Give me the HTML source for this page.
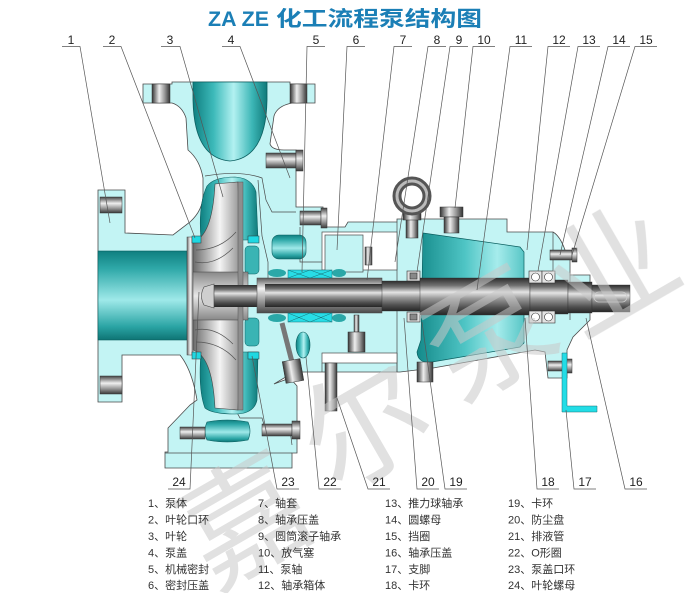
<!DOCTYPE html>
<html><head><meta charset="utf-8"><style>
html,body{margin:0;padding:0;background:#fff;}
svg{display:block;}
</style></head><body>
<svg width="700" height="593" viewBox="0 0 700 593" xmlns="http://www.w3.org/2000/svg">
<defs>
<linearGradient id="tH" x1="0" y1="0" x2="1" y2="0">
<stop offset="0" stop-color="#0f7f80"/><stop offset=".28" stop-color="#3dbaba"/><stop offset=".55" stop-color="#b2f1f1"/><stop offset=".8" stop-color="#3cb6b6"/><stop offset="1" stop-color="#0f7a7a"/>
</linearGradient>
<linearGradient id="tV" x1="0" y1="0" x2="0" y2="1">
<stop offset="0" stop-color="#0f7f80"/><stop offset=".2" stop-color="#2fa9a9"/><stop offset=".55" stop-color="#9fe9e9"/><stop offset=".85" stop-color="#2aa4a4"/><stop offset="1" stop-color="#0e7474"/>
</linearGradient>
<linearGradient id="cone" x1="0" y1="0" x2="1" y2="0">
<stop offset="0" stop-color="#148a8a"/><stop offset=".45" stop-color="#4fc5c5"/><stop offset=".75" stop-color="#a6ecec"/><stop offset="1" stop-color="#58c6c6"/>
</linearGradient>
<linearGradient id="sV" x1="0" y1="0" x2="0" y2="1">
<stop offset="0" stop-color="#2c2c2c"/><stop offset=".2" stop-color="#707070"/><stop offset=".38" stop-color="#e4e4e4"/><stop offset=".55" stop-color="#9a9a9a"/><stop offset=".8" stop-color="#505050"/><stop offset="1" stop-color="#262626"/>
</linearGradient>
<linearGradient id="slV" x1="0" y1="0" x2="0" y2="1">
<stop offset="0" stop-color="#5a5a5a"/><stop offset=".3" stop-color="#f2f2f2"/><stop offset=".6" stop-color="#a8a8a8"/><stop offset="1" stop-color="#4a4a4a"/>
</linearGradient>
<linearGradient id="gH" x1="0" y1="0" x2="1" y2="0">
<stop offset="0" stop-color="#333"/><stop offset=".4" stop-color="#eee"/><stop offset=".7" stop-color="#999"/><stop offset="1" stop-color="#333"/>
</linearGradient>
<linearGradient id="gV" x1="0" y1="0" x2="0" y2="1">
<stop offset="0" stop-color="#444"/><stop offset=".4" stop-color="#eee"/><stop offset=".7" stop-color="#999"/><stop offset="1" stop-color="#3a3a3a"/>
</linearGradient>
<linearGradient id="imp" x1="0" y1="0" x2="1" y2="0">
<stop offset="0" stop-color="#6a6a6a"/><stop offset=".55" stop-color="#f4f4f4"/><stop offset="1" stop-color="#8a8a8a"/>
</linearGradient>
<linearGradient id="impV" x1="0" y1="0" x2="0" y2="1">
<stop offset="0" stop-color="#888"/><stop offset=".5" stop-color="#e8e8e8"/><stop offset="1" stop-color="#888"/>
</linearGradient>
</defs>

<rect width="700" height="593" fill="#fff"/>

<!-- main pale cyan body -->
<path d="M143,84 H172 V82 H290 V84 H315 V103 H292 Q277,106 274,116 L270,144 Q272,150 284,150 H296 V207 H323 V227 H345 L348,222 H397 V219 H507 V232 H553 Q560,236 565,250 L570,256 V275 H590 V320 L573,337 L567,350 V378 H548 L545,352 L535,350 L433,368 L400,372 H300 L284,378 L274,384 L290,378 L297,386 V453 H292 V468 H165 V452 H168 V428 L190,405 L197,400 Q192,370 180,355 H122 V402 H98 V190 H125 V233 L173,235 L190,222 Q203,210 203,195 V178 Q200,160 188,150 L186,118 Q182,106 172,103 H143 Z" fill="#c3f4f4" stroke="#4a4a4a" stroke-width="0.8"/>

<!-- internal outlines -->
<g fill="none" stroke="#4a4a4a" stroke-width="0.7">
<path d="M165,453 H292"/>
<path d="M205,176 Q240,170 262,178 L266,200 L272,212 L296,212"/>
<path d="M258,180 L262,236 L268,262 L268,290"/>
<path d="M300,227 V262 H322"/>
<path d="M397,222 V372"/>
<path d="M553,232 V272"/>
<path d="M570,275 V320"/>
<path d="M230,400 L240,418 L262,418 L265,428 L290,430 L292,445"/>
<path d="M322,363 V372 M397,353 V372"/>
</g>

<!-- white gaps -->
<rect x="322" y="232" width="75" height="38" fill="#fff" stroke="#4a4a4a" stroke-width="0.7"/>
<rect x="325" y="235" width="38" height="37" fill="#c3f4f4" stroke="#4a4a4a" stroke-width="0.7"/>
<rect x="322" y="353" width="75" height="10" fill="#fff" stroke="#4a4a4a" stroke-width="0.7"/>

<!-- teal parts -->
<path d="M193,82 H267 V100 Q266,158 230,161 Q194,158 193,100 Z" fill="url(#tH)" stroke="#0b5f60" stroke-width="0.8"/>
<rect x="98" y="251" width="89" height="89" fill="url(#tV)" stroke="#0b5f60" stroke-width="0.6"/>
<path d="M201,240 Q198,205 207,186 Q214,177 235,177 Q252,178 256,192 L258,240 Z" fill="url(#tH)" stroke="#0b5f60" stroke-width="0.6"/>
<path d="M201,352 Q198,390 205,408 Q212,414 235,414 Q254,414 257,400 L258,352 Z" fill="url(#tH)" stroke="#0b5f60" stroke-width="0.6"/>
<path d="M207,422 Q227,418 248,422 Q252,431 248,440 Q227,444 207,440 Q203,431 207,422 Z" fill="url(#tV)" stroke="#0b5f60" stroke-width="0.6"/>
<rect x="272" y="235" width="34" height="24" rx="7" fill="url(#tV)" stroke="#0b5f60" stroke-width="0.6"/>
<ellipse cx="303" cy="345" rx="7" ry="13" fill="url(#tH)" stroke="#0b5f60" stroke-width="0.6"/>
<rect x="245" y="246" width="14" height="28" rx="4" fill="#3ab4b4" stroke="#0b5f60" stroke-width="0.5"/>
<rect x="245" y="318" width="14" height="28" rx="4" fill="#3ab4b4" stroke="#0b5f60" stroke-width="0.5"/>
<ellipse cx="277" cy="273" rx="9" ry="4" fill="#2aa8a8"/>
<ellipse cx="277" cy="318" rx="9" ry="4" fill="#2aa8a8"/>
<ellipse cx="339" cy="273" rx="7" ry="4" fill="#2aa8a8"/>
<ellipse cx="339" cy="318" rx="7" ry="4" fill="#2aa8a8"/>
<path d="M423,233 L520,247 L524,252 V343 L520,347 L432,362 Q418,364 417,352 L421,340 Z" fill="url(#cone)" stroke="#0b5f60" stroke-width="0.7"/>

<!-- impeller -->
<rect x="187" y="237" width="6" height="118" fill="url(#imp)" stroke="#444" stroke-width="0.5"/>
<path d="M193,242 C205,238 213,222 215,184 L238,182 L240,245 L242,275 L193,275 Z" fill="url(#imp)" stroke="#444" stroke-width="0.6"/>
<path d="M193,350 C205,354 213,370 215,408 L238,410 L240,347 L242,317 L193,317 Z" fill="url(#imp)" stroke="#444" stroke-width="0.6"/>
<rect x="193" y="272" width="55" height="48" fill="url(#impV)" stroke="#444" stroke-width="0.5"/>
<rect x="238" y="182" width="5" height="228" fill="#8e8e8e" stroke="#444" stroke-width="0.4"/>
<g fill="none" stroke="#555" stroke-width="0.7">
<path d="M195,262 Q215,266 233,248"/><path d="M195,330 Q215,326 233,344"/>
<path d="M196,250 Q220,250 236,232"/><path d="M196,342 Q220,342 236,360"/>
</g>
<!-- wear rings -->
<rect x="192" y="236" width="9" height="7" fill="#1fd8e2" stroke="#333" stroke-width="0.5"/>
<rect x="248" y="236" width="11" height="7" fill="#1fd8e2" stroke="#333" stroke-width="0.5"/>
<rect x="192" y="352" width="9" height="7" fill="#1fd8e2" stroke="#333" stroke-width="0.5"/>
<rect x="248" y="352" width="11" height="7" fill="#1fd8e2" stroke="#333" stroke-width="0.5"/>

<!-- shaft -->
<rect x="212" y="285" width="50" height="22" fill="url(#sV)"/>
<rect x="257" y="278" width="125" height="35" fill="url(#slV)" stroke="#444" stroke-width="0.5"/>
<rect x="265" y="284" width="117" height="23" fill="url(#sV)"/>
<rect x="382" y="281" width="40" height="30" fill="url(#sV)" stroke="#333" stroke-width="0.4"/>
<rect x="420" y="278" width="110" height="37" fill="url(#sV)" stroke="#333" stroke-width="0.4"/>
<rect x="530" y="280" width="38" height="34" fill="url(#sV)" stroke="#333" stroke-width="0.4"/>
<rect x="568" y="282" width="24" height="31" fill="url(#sV)" stroke="#333" stroke-width="0.4"/>
<rect x="592" y="285" width="38" height="27" fill="url(#sV)" stroke="#333" stroke-width="0.4"/>
<rect x="594" y="292" width="33" height="10" rx="5" fill="none" stroke="#ccc" stroke-width="0.8"/>
<path d="M214,284 L204,287 Q199,296 204,305 L214,308 Z" fill="#cfcfcf" stroke="#444" stroke-width="0.6"/>

<!-- seal rings -->
<g stroke="#1a6e74" stroke-width="0.5">
<rect x="288" y="270" width="44" height="8" fill="#28dde6"/>
<rect x="288" y="313" width="44" height="9" fill="#28dde6"/>
<path d="M288,270 L310,278 M310,270 L288,278 M310,270 L332,278 M332,270 L310,278 M288,313 L310,322 M310,313 L288,322 M310,313 L332,322 M332,313 L310,322" fill="none"/>
</g>

<!-- bearings -->
<g stroke="#333" stroke-width="0.6">
<rect x="407" y="271" width="13" height="10" fill="#ddd"/><rect x="410" y="273" width="7" height="6" fill="#888"/>
<rect x="407" y="312" width="13" height="10" fill="#ddd"/><rect x="410" y="314" width="7" height="6" fill="#888"/>
<rect x="529" y="271" width="13" height="12" fill="#e4e4e4"/><rect x="542" y="271" width="13" height="12" fill="#e4e4e4"/>
<rect x="529" y="311" width="13" height="12" fill="#e4e4e4"/><rect x="542" y="311" width="13" height="12" fill="#e4e4e4"/>
<circle cx="535.5" cy="277" r="4" fill="#fff"/><circle cx="548.5" cy="277" r="4" fill="#fff"/>
<circle cx="535.5" cy="317" r="4" fill="#fff"/><circle cx="548.5" cy="317" r="4" fill="#fff"/>
</g>

<!-- bolts -->
<g stroke="#333" stroke-width="0.5">
<rect x="152" y="84" width="18" height="19" fill="url(#gH)"/>
<rect x="290" y="84" width="17" height="19" fill="url(#gH)"/>
<rect x="100" y="197" width="22" height="16" fill="url(#gV)"/>
<rect x="100" y="376" width="22" height="18" fill="url(#gV)"/>
<rect x="266" y="153" width="30" height="15" fill="url(#gV)"/><rect x="296" y="150" width="7" height="21" fill="url(#gV)"/>
<rect x="300" y="211" width="21" height="14" fill="url(#gV)"/><rect x="321" y="208" width="6" height="20" fill="url(#gV)"/>
<rect x="180" y="427" width="25" height="12" fill="url(#gV)"/>
<rect x="262" y="424" width="30" height="12" fill="url(#gV)"/><rect x="292" y="421" width="8" height="18" fill="url(#gV)"/>
<rect x="365" y="247" width="7" height="18" fill="url(#gH)"/>
<rect x="354" y="315" width="5" height="17" fill="url(#gH)"/>
<rect x="348" y="332" width="17" height="20" fill="url(#gH)"/>
<rect x="325" y="363" width="12" height="48" fill="url(#gH)"/>
<rect x="440" y="207" width="23" height="10" fill="url(#gH)"/>
<rect x="444" y="217" width="15" height="16" fill="url(#gH)"/>
<rect x="406" y="214" width="12" height="24" fill="url(#gH)"/>
<rect x="403" y="212" width="18" height="8" fill="url(#gH)"/>
<rect x="417" y="362" width="16" height="20" fill="url(#gH)"/>
<rect x="550" y="250" width="22" height="10" fill="url(#gV)"/><rect x="572" y="248" width="5" height="14" fill="url(#gV)"/>
<rect x="548" y="361" width="18" height="10" fill="url(#gV)"/><rect x="566" y="359" width="6" height="14" fill="url(#gV)"/>
</g>
<circle cx="412" cy="196" r="15" fill="none" stroke="#555" stroke-width="9"/>
<circle cx="412" cy="196" r="15" fill="none" stroke="#bbb" stroke-width="3"/>
<line x1="282" y1="323" x2="292" y2="362" stroke="#777" stroke-width="5"/>
<rect x="284" y="360" width="18" height="22" fill="url(#gH)" stroke="#333" stroke-width="0.5" transform="rotate(-10 293 371)"/>

<!-- foot -->
<path d="M562,353 H567 V406 H597 V412 H562 Z" fill="#22dde6" stroke="#1a6e74" stroke-width="0.5"/>

<!-- watermark -->
<g font-family="'Liberation Sans','Noto Sans CJK SC',sans-serif" font-size="125" fill="#c8c8c8" opacity="0.55" text-anchor="middle">
<text x="245" y="565" transform="rotate(-30 245 520)">嘉</text>
<text x="365" y="470" transform="rotate(-30 365 425)">尔</text>
<text x="490" y="380" transform="rotate(-30 490 335)">泵</text>
<text x="612" y="315" transform="rotate(-30 612 270)">业</text>
</g>

<!-- leader lines -->
<g stroke="#555" stroke-width="0.7" fill="none">
<path d="M62,46.5 H80 L110,223"/>
<path d="M103,46.5 H121 L195,238"/>
<path d="M161,46.5 H180 L223,197"/>
<path d="M222,46.5 H240 L290,178"/>
<path d="M325,46.5 H307 L302,272"/>
<path d="M365,46.5 H347 L337,250"/>
<path d="M412,46.5 H394 L367,280"/>
<path d="M446,46.5 H428 L395,262"/>
<path d="M468,46.5 H450 L417,272"/>
<path d="M495,46.5 H473 L455,208"/>
<path d="M532,46.5 H510 L477,290"/>
<path d="M570,46.5 H548 L527,250"/>
<path d="M600,46.5 H578 L538,271"/>
<path d="M630,46.5 H608 L560,255"/>
<path d="M657,46.5 H635 L572,255"/>
<path d="M168,489 H190 L199,292"/>
<path d="M299,489 H277 L252,356"/>
<path d="M341,489 H319 L306,357"/>
<path d="M390,489 H368 L337,398"/>
<path d="M439,489 H417 L404,318"/>
<path d="M467,489 H445 L422,322"/>
<path d="M559,489 H537 L525,318"/>
<path d="M596,489 H574 L566,410"/>
<path d="M647,489 H625 L586,318"/>
</g>

<!-- labels -->
<g font-family="'Liberation Sans',sans-serif" font-size="12" fill="#222" text-anchor="middle">
<text x="71" y="44">1</text><text x="112" y="44">2</text><text x="170" y="44">3</text><text x="231" y="44">4</text>
<text x="316" y="44">5</text><text x="356" y="44">6</text><text x="403" y="44">7</text><text x="437" y="44">8</text>
<text x="459" y="44">9</text><text x="484" y="44">10</text><text x="521" y="44">11</text><text x="559" y="44">12</text>
<text x="589" y="44">13</text><text x="619" y="44">14</text><text x="646" y="44">15</text>
<text x="179" y="486">24</text><text x="288" y="486">23</text><text x="330" y="486">22</text><text x="379" y="486">21</text>
<text x="428" y="486">20</text><text x="456" y="486">19</text><text x="548" y="486">18</text><text x="585" y="486">17</text>
<text x="636" y="486">16</text>
</g>

<!-- title -->
<g font-weight="bold" fill="#1b7fb6" font-size="21">
<text x="208" y="26" font-family="'Liberation Sans',sans-serif" textLength="61" lengthAdjust="spacingAndGlyphs">ZA ZE</text>
<text x="276" y="26" font-family="'Liberation Sans','Noto Sans CJK SC',sans-serif" textLength="206" lengthAdjust="spacingAndGlyphs">化工流程泵结构图</text>
</g>

<!-- legend -->
<g font-family="'Liberation Sans','Noto Sans CJK SC',sans-serif" font-size="11" fill="#333">
<text x="148" y="507">1、泵体</text><text x="148" y="523.5">2、叶轮口环</text><text x="148" y="540">3、叶轮</text>
<text x="148" y="556.5">4、泵盖</text><text x="148" y="573">5、机械密封</text><text x="148" y="589">6、密封压盖</text>
<text x="258" y="507">7、轴套</text><text x="258" y="523.5">8、轴承压盖</text><text x="258" y="540">9、圆筒滚子轴承</text>
<text x="258" y="556.5">10、放气塞</text><text x="258" y="573">11、泵轴</text><text x="258" y="589">12、轴承箱体</text>
<text x="385" y="507">13、推力球轴承</text><text x="385" y="523.5">14、圆螺母</text><text x="385" y="540">15、挡圈</text>
<text x="385" y="556.5">16、轴承压盖</text><text x="385" y="573">17、支脚</text><text x="385" y="589">18、卡环</text>
<text x="508" y="507">19、卡环</text><text x="508" y="523.5">20、防尘盘</text><text x="508" y="540">21、排液管</text>
<text x="508" y="556.5">22、O形圈</text><text x="508" y="573">23、泵盖口环</text><text x="508" y="589">24、叶轮螺母</text>
</g>
</svg>
</body></html>
